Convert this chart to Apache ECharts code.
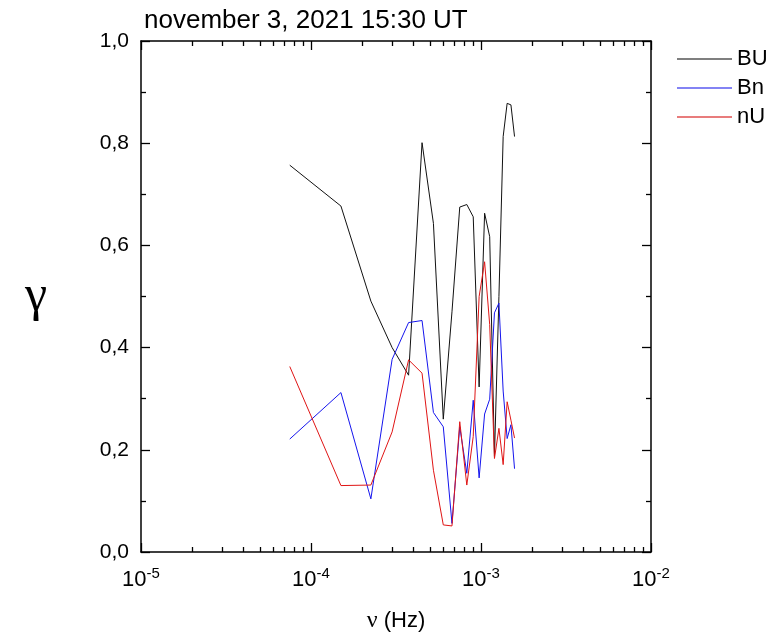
<!DOCTYPE html>
<html>
<head>
<meta charset="utf-8">
<script src="https://cdn.jsdelivr.net/npm/echarts@6/dist/echarts.min.js"></script>
<style>
  html, body { margin: 0; padding: 0; background: #fff; }
  #gammaChart { width: 769px; height: 635px; }
</style>
</head>
<body>
<div id="gammaChart"></div>
<script>
// frequencies (Hz)
var freq = [7.5e-5, 1.5e-4, 2.25e-4, 3.0e-4, 3.75e-4, 4.5e-4, 5.25e-4, 6.0e-4, 6.75e-4, 7.5e-4,
  8.25e-4, 9.0e-4, 9.75e-4, 1.05e-3, 1.125e-3, 1.2e-3, 1.275e-3, 1.35e-3, 1.425e-3, 1.5e-3, 1.575e-3];

// coherence values
var valBU = [0.757, 0.677, 0.491, 0.40, 0.346, 0.801, 0.643, 0.260, 0.47, 0.675,
  0.680, 0.656, 0.323, 0.663, 0.617, 0.187, 0.50, 0.813, 0.878, 0.875, 0.813];
var valBn = [0.221, 0.312, 0.104, 0.377, 0.449, 0.453, 0.273, 0.245, 0.056, 0.245,
  0.154, 0.297, 0.145, 0.270, 0.299, 0.468, 0.487, 0.315, 0.222, 0.249, 0.163];
var valnU = [0.363, 0.130, 0.131, 0.235, 0.376, 0.350, 0.160, 0.053, 0.051, 0.255,
  0.131, 0.226, 0.500, 0.568, 0.445, 0.183, 0.242, 0.171, 0.294, 0.258, 0.223];

var seriesNames = ["BU", "Bn", "nU"];
var decadeTicks = [1e-5, 1e-4, 1e-3, 1e-2];

// minor ticks 2..9 in each decade
var minorTicks = [];
for (var d = -5; d < -2; d++) {
  for (var m = 2; m <= 9; m++) {
    minorTicks.push(m * Math.pow(10, d));
  }
}

function pairs(vals) {
  return vals.map(function (v, i) {
    return [freq[i], v];
  });
}

var myChart = echarts.init(document.getElementById("gammaChart"));

var fontMain = "Liberation Sans, Arial, sans-serif";

function logAxis(pos, major, showLabel) {
  return {
    type: "log",
    logBase: 10,
    min: 1e-5,
    max: 1e-2,
    position: pos,
    gridIndex: 0,
    axisLine: { show: major, lineStyle: { color: "#000", width: 1.5 } },
    axisTick: {
      show: true,
      inside: true,
      length: major ? 9 : 5,
      customValues: major ? decadeTicks : minorTicks,
      lineStyle: { color: "#000", width: 1.3 },
    },
    axisLabel: {
      show: showLabel,
      margin: 14,
      customValues: decadeTicks,
      formatter: function (v) {
        var e = Math.round(Math.log10(v));
        return "{a|10}{b|" + e + "}";
      },
      rich: {
        a: { fontSize: 22, fontFamily: fontMain, color: "#000" },
        b: { fontSize: 15, fontFamily: fontMain, color: "#000", padding: [0, 0, 13, 0] },
      },
    },
    splitLine: { show: false },
    minorTick: { show: false },
  };
}

function valAxis(pos, showLabel) {
  return {
    type: "value",
    min: 0,
    max: 1,
    interval: 0.2,
    position: pos,
    axisLine: { show: true, lineStyle: { color: "#000", width: 1.5 } },
    axisTick: { inside: true, length: 9, lineStyle: { color: "#000", width: 1.3 } },
    minorTick: { show: true, splitNumber: 2, length: 5, lineStyle: { color: "#000", width: 1.3 } },
    axisLabel: {
      show: showLabel,
      margin: 12,
      color: "#000",
      fontSize: 21,
      fontFamily: fontMain,
      formatter: function (v) {
        return v.toFixed(1).replace(".", ",");
      },
    },
    splitLine: { show: false },
  };
}

var xMain = logAxis("bottom", true, true);
xMain.name = "{g|ν} (Hz)";
xMain.nameLocation = "middle";
xMain.nameGap = 57;
xMain.nameTextStyle = {
  fontSize: 22,
  fontFamily: fontMain,
  color: "#000",
  rich: {
    g: { fontSize: 24, fontFamily: "Liberation Serif, serif", color: "#000" },
  },
};

var yMain = valAxis("left", true);
yMain.name = "γ";
yMain.nameLocation = "middle";
yMain.nameRotate = 0;
yMain.nameGap = 94;
yMain.nameTextStyle = { fontSize: 50, fontFamily: "Liberation Serif, serif", color: "#000" };

var option = {
  backgroundColor: "#fff",
  animation: false,
  title: {
    text: "november 3, 2021 15:30 UT",
    left: 144,
    top: 8,
    padding: 0,
    textStyle: { fontSize: 26, fontWeight: "normal", fontFamily: fontMain, color: "#000" },
  },
  legend: {
    orient: "vertical",
    left: 672,
    top: 43,
    itemWidth: 55,
    itemHeight: 1.3,
    itemGap: 7,
    icon: "rect",
    data: seriesNames,
    textStyle: { fontSize: 22, lineHeight: 22, fontFamily: fontMain, color: "#000" },
  },
  grid: {
    left: 141,
    top: 41,
    width: 510,
    height: 511,
    containLabel: false,
    outerBoundsMode: "none",
  },
  xAxis: [
    xMain,
    logAxis("bottom", false, false),
    logAxis("top", true, false),
    logAxis("top", false, false),
  ],
  yAxis: [yMain, valAxis("right", false)],
  series: [
    {
      name: "BU",
      type: "line",
      symbol: "none",
      data: pairs(valBU),
      lineStyle: { color: "#111", width: 1 },
      itemStyle: { color: "#555" },
    },
    {
      name: "Bn",
      type: "line",
      symbol: "none",
      data: pairs(valBn),
      lineStyle: { color: "#1515ee", width: 1 },
      itemStyle: { color: "#5a5af0" },
    },
    {
      name: "nU",
      type: "line",
      symbol: "none",
      data: pairs(valnU),
      lineStyle: { color: "#e01515", width: 1 },
      itemStyle: { color: "#e05050" },
    },
  ],
};

myChart.setOption(option);
</script>
</body>
</html>
